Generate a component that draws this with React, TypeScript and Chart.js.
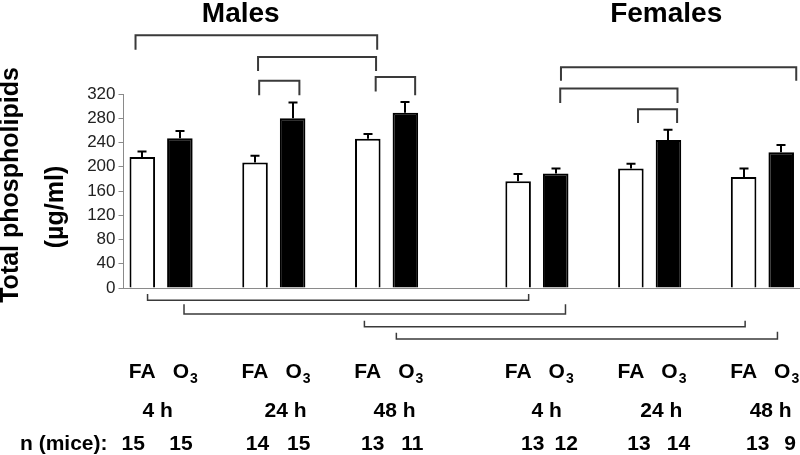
import React, { useEffect, useRef } from 'react';
import { Chart, registerables } from 'chart.js';

Chart.register(...registerables);

// ---- data ----
const timePoints = ['4 h', '24 h', '48 h'];
const maleFA = [216, 207, 246];
const maleFAErr = [9, 11, 8];
const maleO3 = [247, 280, 289];
const maleO3Err = [12, 26, 18];
const femaleFA = [176, 197, 183];
const femaleFAErr = [12, 8, 14];
const femaleO3 = [189, 244, 224];
const femaleO3Err = [8, 17, 12];
const nMaleFA = [15, 14, 13];
const nMaleO3 = [15, 15, 11];
const nFemaleFA = [13, 13, 13];
const nFemaleO3 = [12, 14, 9];
const yMin = 0;
const yMax = 320;
const yStep = 40;
const groupTitles = ['Males', 'Females'];
const yTitleLines = ['Total phospholipids', '(µg/ml)'];

// significance brackets: slot positions (category units) and values (µg/ml)
const topBrackets = [
  { from: -0.18, to: 6.25, bar: 417, legL: 393, legR: 393 },
  { from: 3.08, to: 6.22, bar: 381, legL: 358, legR: 358 },
  { from: 3.11, to: 4.18, bar: 342, legL: 318, legR: 318 },
  { from: 6.21, to: 7.26, bar: 348, legL: 324, legR: 318 },
  { from: 11.14, to: 17.4, bar: 364, legL: 342, legR: 342 },
  { from: 11.12, to: 14.24, bar: 329, legL: 305, legR: 305 },
  { from: 13.19, to: 14.23, bar: 295, legL: 272, legR: 272 },
];
const bottomBrackets = [
  { from: 0.14, to: 10.28, bar: -20, legL: -10, legR: -10 },
  { from: 1.11, to: 11.26, bar: -43, legL: -27, legR: -27 },
  { from: 5.91, to: 16.04, bar: -64, legL: -54, legR: -54 },
  { from: 6.76, to: 16.9, bar: -84, legL: -74, legR: -72 },
];

// ---- layout helpers ----
const FEMALE_START = 10;
const SLOTS = 18;
const slotFA = (sex: number, g: number) => (sex === 0 ? 0 : FEMALE_START) + 3 * g;
const timeLabelShift = [-0.09, 0.31, 0.21, 0.26, 0.31, 0.22];
const nShiftFA = [-9, 2.5, 5, 14.5, 8, 14];
const nShiftO3 = [1, 6, 7, 10.5, 10, 9];
const titleSlots = [2.62, 13.94];
const FONT = '"Liberation Sans", Arial, Helvetica, sans-serif';

function buildSeries(a: number[], b: number[], offset: number) {
  const arr: (number | null)[] = new Array(SLOTS).fill(null);
  a.forEach((v, g) => (arr[slotFA(0, g) + offset] = v));
  b.forEach((v, g) => (arr[slotFA(1, g) + offset] = v));
  return arr;
}

const faData = buildSeries(maleFA, femaleFA, 0);
const o3Data = buildSeries(maleO3, femaleO3, 1);
const faErr = buildSeries(maleFAErr, femaleFAErr, 0);
const o3Err = buildSeries(maleO3Err, femaleO3Err, 1);
const labels = new Array(SLOTS).fill('');

const overlayPlugin = {
  id: 'overlay',
  afterDraw(chart: any) {
    const { ctx, scales } = chart;
    const x = scales.x;
    const y = scales.y;
    const px = (v: number) => x.getPixelForValue(v);
    const py = (v: number) => y.getPixelForValue(v);
    ctx.save();

    // error bars
    ctx.strokeStyle = '#000';
    ctx.lineWidth = 2;
    [
      [faData, faErr],
      [o3Data, o3Err],
    ].forEach(([vals, errs]) => {
      vals.forEach((v: number | null, i: number) => {
        if (v == null) return;
        const e = errs[i] as number;
        const cx = Math.round(px(i));
        const y0 = py(v);
        const y1 = py(v + e);
        ctx.beginPath();
        ctx.moveTo(cx, y0);
        ctx.lineTo(cx, y1);
        ctx.moveTo(cx - 4.5, y1);
        ctx.lineTo(cx + 4.5, y1);
        ctx.stroke();
      });
    });

    // brackets
    const drawBracket = (b: any, lw: number) => {
      ctx.lineWidth = lw;
      ctx.strokeStyle = '#3a3a3a';
      const xa = px(b.from);
      const xb = px(b.to);
      ctx.beginPath();
      ctx.moveTo(xa, py(b.legL));
      ctx.lineTo(xa, py(b.bar));
      ctx.lineTo(xb, py(b.bar));
      ctx.lineTo(xb, py(b.legR));
      ctx.stroke();
    };
    topBrackets.forEach((b) => drawBracket(b, 2));
    bottomBrackets.forEach((b) => drawBracket(b, 1.5));

    // group titles
    ctx.fillStyle = '#000';
    ctx.textAlign = 'center';
    ctx.textBaseline = 'alphabetic';
    ctx.font = `bold 28px ${FONT}`;
    groupTitles.forEach((t, i) => ctx.fillText(t, px(titleSlots[i]), 22));

    // y title
    const yc = (y.top + y.bottom) / 2;
    ctx.font = `bold 25px ${FONT}`;
    ctx.save();
    ctx.translate(18, yc - 6);
    ctx.rotate(-Math.PI / 2);
    ctx.fillText(yTitleLines[0], 0, 0);
    ctx.restore();
    ctx.save();
    ctx.translate(63, yc + 16);
    ctx.rotate(-Math.PI / 2);
    ctx.fillText(yTitleLines[1], 0, 0);
    ctx.restore();

    // bottom labels
    const base = y.bottom;
    const row1 = base + 90;
    const row2 = base + 129;
    const row3 = base + 162;
    const big = `bold 21px ${FONT}`;
    for (let sex = 0; sex < 2; sex++) {
      for (let g = 0; g < 3; g++) {
        const k = sex * 3 + g;
        const s = slotFA(sex, g);
        const cFA = px(s);
        const cO3 = px(s + 1);
        ctx.textAlign = 'center';
        ctx.font = big;
        ctx.fillText('FA', cFA, row1);
        ctx.fillText('O', cO3 + 1, row1);
        const ow = ctx.measureText('O').width;
        ctx.textAlign = 'left';
        ctx.font = `bold 14px ${FONT}`;
        ctx.fillText('3', cO3 + 1 + ow / 2 + 1, row1 + 5);
        ctx.textAlign = 'center';
        ctx.font = big;
        ctx.fillText(timePoints[g], px(s + 0.5 + timeLabelShift[k]), row2);
        const nFA = sex === 0 ? nMaleFA[g] : nFemaleFA[g];
        const nO3 = sex === 0 ? nMaleO3[g] : nFemaleO3[g];
        ctx.fillText(String(nFA), cFA + nShiftFA[k], row3);
        ctx.fillText(String(nO3), cO3 + nShiftO3[k], row3);
      }
    }
    ctx.textAlign = 'left';
    ctx.font = big;
    ctx.fillText('n (mice):', 20, row3);

    ctx.restore();
  },
};

export default function App() {
  const ref = useRef<HTMLCanvasElement | null>(null);
  useEffect(() => {
    if (!ref.current) return;
    const chart = new Chart(ref.current, {
      type: 'bar',
      data: {
        labels,
        datasets: [
          {
            label: 'FA',
            data: faData,
            backgroundColor: '#ffffff',
            borderColor: '#000000',
            borderWidth: 2,
            grouped: false,
            barPercentage: 0.68,
            categoryPercentage: 1,
          } as any,
          {
            label: 'O3',
            data: o3Data,
            backgroundColor: '#000000',
            borderColor: '#000000',
            borderWidth: 2,
            grouped: false,
            barPercentage: 0.68,
            categoryPercentage: 1,
          } as any,
        ],
      },
      options: {
        animation: false,
        responsive: false,
        maintainAspectRatio: false,
        devicePixelRatio: 1,
        layout: { padding: { top: 94, right: 0, bottom: 167, left: 0 } },
        plugins: {
          legend: { display: false },
          tooltip: { enabled: false },
          title: { display: false },
        },
        scales: {
          x: {
            type: 'category',
            offset: true,
            grid: { display: false, drawTicks: false },
            ticks: { display: false },
            border: { display: true, color: '#8a8a8a', width: 1 },
          },
          y: {
            min: yMin,
            max: yMax,
            ticks: {
              stepSize: yStep,
              color: '#222',
              padding: 3,
              font: { family: FONT, size: 17 },
            },
            grid: {
              display: true,
              drawOnChartArea: false,
              drawTicks: true,
              tickLength: 5,
              color: '#8a8a8a',
            },
            border: { display: true, color: '#8a8a8a', width: 1 },
            afterFit: (s: any) => {
              s.width = 123.5;
            },
          },
        },
      } as any,
      plugins: [overlayPlugin],
    });
    return () => chart.destroy();
  }, []);
  return (
    <div style={{ position: 'fixed', left: 0, top: 0, width: 800, height: 455, background: '#fff' }}>
      <canvas ref={ref} width={800} height={455} style={{ width: 800, height: 455, display: 'block' }} />
    </div>
  );
}
